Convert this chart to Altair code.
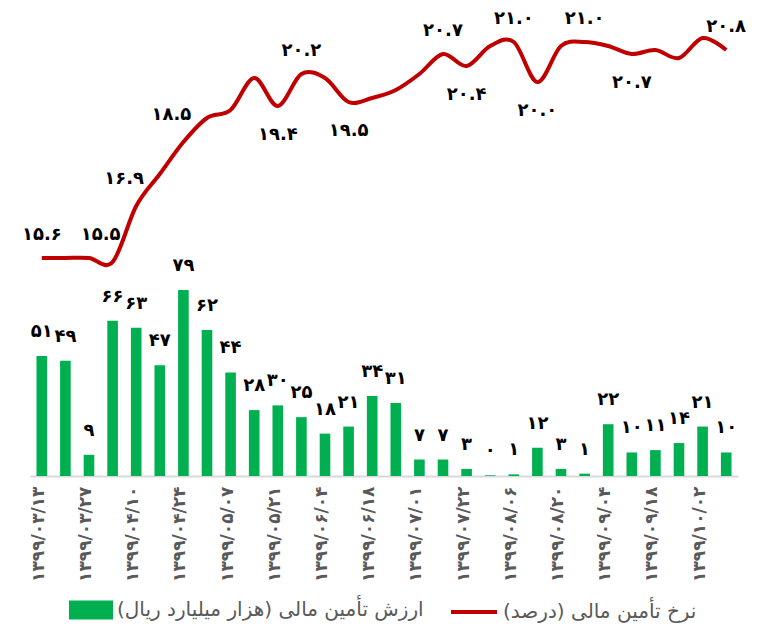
import altair as alt
import pandas as pd

# ---------------- data ----------------
dates = [
    "1399/03/13", "1399/03/20", "1399/03/27", "1399/04/03", "1399/04/10",
    "1399/04/17", "1399/04/24", "1399/04/31", "1399/05/07", "1399/05/14",
    "1399/05/21", "1399/05/28", "1399/06/04", "1399/06/11", "1399/06/18",
    "1399/06/25", "1399/07/01", "1399/07/15", "1399/07/22", "1399/07/29",
    "1399/08/06", "1399/08/13", "1399/08/20", "1399/08/27", "1399/09/04",
    "1399/09/11", "1399/09/18", "1399/09/25", "1399/10/02", "1399/10/09",
]
bar_values = [51, 49, 9, 66, 63, 47, 79, 62, 44, 28, 30, 25, 18, 21, 34,
              31, 7, 7, 3, 0.3, 0.7, 12, 3, 1, 22, 10, 11, 14, 21, 10]
rate_values = [15.6, 15.6, 15.6, 15.5, 16.9, 17.7, 18.5, 19.1, 19.3, 20.1,
               19.4, 20.2, 20.1, 19.5, 19.6, 19.8, 20.2, 20.7, 20.4, 20.9,
               21.0, 20.0, 20.9, 21.0, 20.9, 20.7, 20.8, 20.6, 21.1, 20.8]
rate_label_idx = [0, 3, 4, 6, 10, 11, 13, 17, 18, 20, 21, 23, 25, 29]
rate_label_pos = ["above", "above_left", "above_left", "above_left", "below",
                  "above", "below", "above", "below", "above", "below",
                  "above", "below", "above"]

bar_series = "ارزش تأمین مالی (هزار میلیارد ریال)\u200F"
rate_series = "نرخ تأمین مالی (درصد)\u200F"

FA = str.maketrans("0123456789", "۰۱۲۳۴۵۶۷۸۹")


def fa(s):
    return str(s).translate(FA)


fa_dates = [fa(d) for d in dates]

df = pd.DataFrame({
    "date": fa_dates,
    "bar": bar_values,
    "bar_label": [fa(round(v)) for v in bar_values],
    "rate": rate_values,
    "bar_series": bar_series,
    "rate_series": rate_series,
})

lab_df = pd.DataFrame({
    "date": [fa_dates[i] for i in rate_label_idx],
    "rate": [rate_values[i] for i in rate_label_idx],
    "text": [fa(f"{rate_values[i]:.1f}") for i in rate_label_idx],
    "pos": rate_label_pos,
})

FONT = "DejaVu Sans"
GREEN = "#00B050"
RED = "#C00000"

x_enc = alt.X(
    "date:N",
    sort=fa_dates,
    scale=alt.Scale(paddingInner=0.55),
    axis=alt.Axis(
        values=fa_dates[::2],
        labelAngle=270,
        labelFont=FONT,
        labelFontSize=17,
        labelFontWeight="bold",
        labelColor="#595959",
        labelPadding=10,
        labelOffset=-3,
        ticks=False,
        domainColor="#D9D9D9",
        domainWidth=2,
        grid=False,
        title=None,
    ),
)

bar_y = alt.Y("bar:Q", scale=alt.Scale(domain=[0, 197.1], nice=False), axis=None)
rate_y = alt.Y("rate:Q", scale=alt.Scale(domain=[10.15, 21.75], nice=False, zero=False), axis=None)

bars = alt.Chart(df).mark_bar().encode(
    x=x_enc,
    y=bar_y,
    fill=alt.Fill(
        "bar_series:N",
        scale=alt.Scale(range=[GREEN]),
        legend=alt.Legend(
            title=None, orient="none", legendX=39, legendY=576, padding=0,
            symbolType="M-1,-0.43H1V0.43H-1Z", symbolSize=1936,
            symbolStrokeWidth=0, labelFont=FONT, labelFontSize=20,
            labelColor="#595959", labelLimit=400, labelOffset=4,
        ),
    ),
)

bar_text = alt.Chart(df).mark_text(
    baseline="bottom", dy=-15, font=FONT, fontSize=18, fontWeight="bold", color="black"
).encode(x=x_enc, y=bar_y, text="bar_label:N")

line = alt.Chart(df).mark_line(interpolate="cardinal", strokeWidth=4).encode(
    x=x_enc,
    y=rate_y,
    stroke=alt.Stroke(
        "rate_series:N",
        scale=alt.Scale(range=[RED]),
        legend=alt.Legend(
            title=None, orient="none", legendX=419, legendY=575, padding=0,
            symbolType="stroke", symbolSize=2116, symbolStrokeWidth=4,
            labelFont=FONT, labelFontSize=20, labelColor="#595959",
            labelLimit=400, labelOffset=4,
        ),
    ),
)

txt_kw = dict(font=FONT, fontSize=18, fontWeight="bold", color="black")
above = alt.Chart(lab_df).transform_filter(alt.datum.pos == "above").mark_text(
    baseline="bottom", dy=-14, **txt_kw
).encode(x=x_enc, y=rate_y, text="text:N")
above_left = alt.Chart(lab_df).transform_filter(alt.datum.pos == "above_left").mark_text(
    baseline="bottom", dy=-18, dx=-12, **txt_kw
).encode(x=x_enc, y=rate_y, text="text:N")
below = alt.Chart(lab_df).transform_filter(alt.datum.pos == "below").mark_text(
    baseline="top", dy=20, **txt_kw
).encode(x=x_enc, y=rate_y, text="text:N")

bar_layer = alt.layer(bars, bar_text)
line_layer = alt.layer(line, above, above_left, below)

chart = (
    alt.layer(bar_layer, line_layer)
    .resolve_scale(y="independent")
    .properties(
        width=708,
        height=464,
        padding={"left": 22, "top": 4, "right": 11, "bottom": 150},
        autosize=alt.AutoSizeParams(type="none"),
        background="white",
    )
    .configure_view(stroke=None)
)

chart.save("out.html", embed_options={"renderer": "svg", "actions": False})
